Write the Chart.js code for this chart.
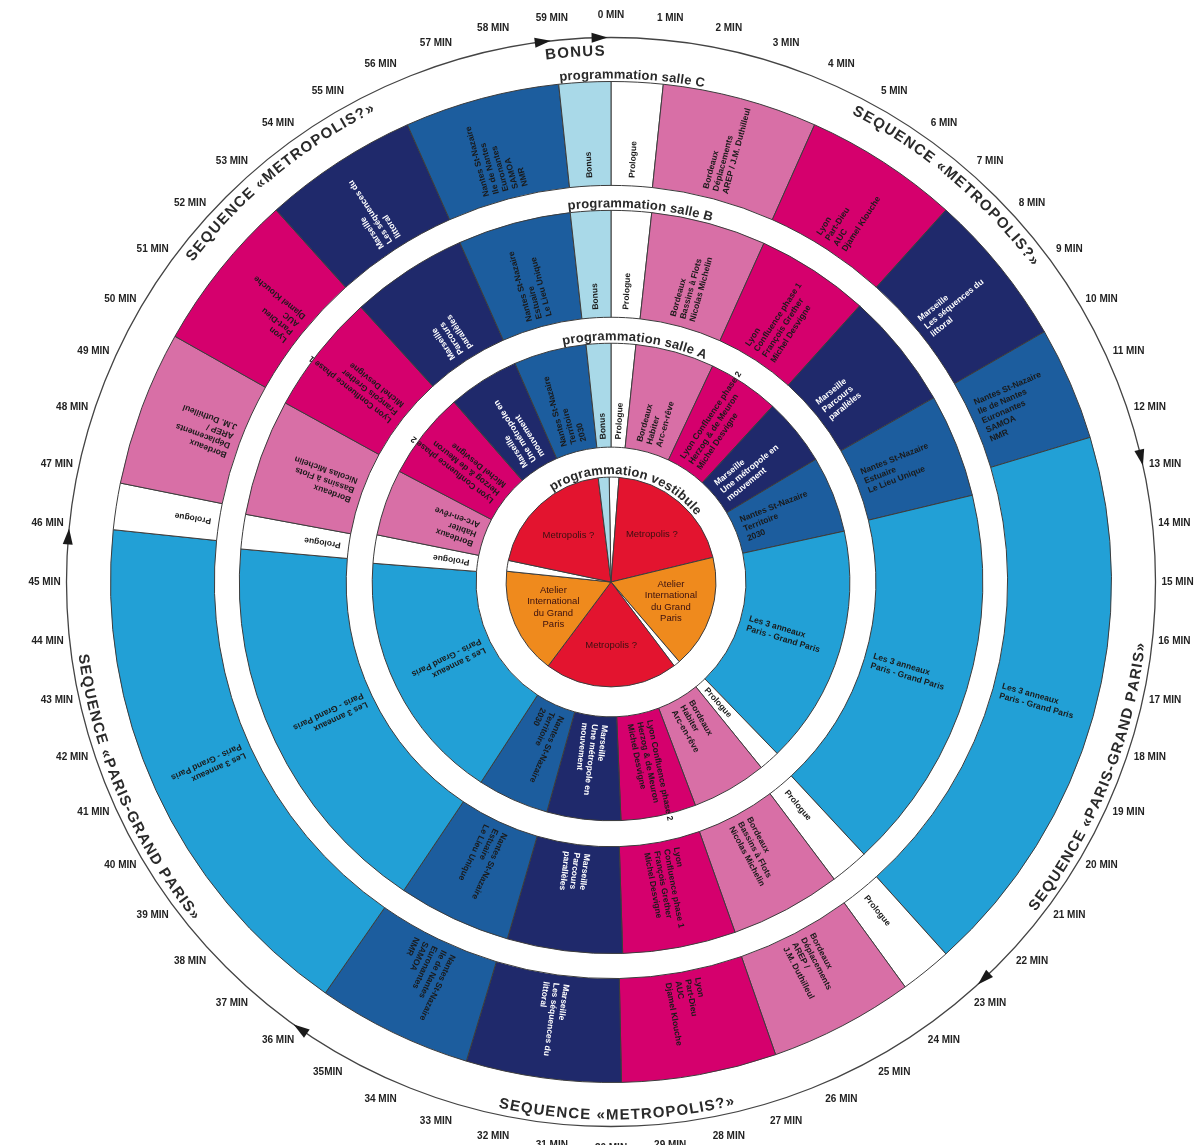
<!DOCTYPE html>
<html lang="fr">
<head>
<meta charset="utf-8">
<title>Programmation</title>
<script src="https://cdn.jsdelivr.net/npm/chart.js@4.4.1/dist/chart.umd.min.js"></script>
<style>
  html, body { margin: 0; padding: 0; background: #fff; }
  #wrap { width: 1201px; height: 1145px; }
</style>
</head>
<body>
<div id="wrap"><canvas id="wheel" width="1201" height="1145"></canvas></div>
<script>
// durées (en minutes) de chaque séquence, à partir de 0 MIN dans le sens horaire
const ringKeys = ['Prologue', 'Bordeaux', 'Lyon', 'Marseille', 'Nantes', 'Paris',
                  'Prologue', 'Bordeaux', 'Lyon', 'Marseille', 'Nantes', 'Paris',
                  'Prologue', 'Bordeaux', 'Lyon', 'Marseille', 'Nantes', 'Bonus'];
const salleC = [1, 3, 3, 3, 2.2, 10.8, 1, 2.8, 3, 3, 3, 10.2, 0.9, 3, 3.1, 3, 3, 1];
const salleB = [1.05, 3, 2.95, 3.05, 2.7, 10.1, 1, 2.9, 2.95, 3, 2.95, 10.2, 0.9, 3.05, 3.15, 3.05, 2.95, 1.05];
const salleA = [1, 3.2, 2.9, 2.75, 3.1, 9.7, 0.85, 3.05, 3.05, 3, 2.9, 10.25, 1.15, 2.7, 3.55, 2.9, 2.95, 1];

const vestibuleKeys = ['Prologue', 'Metropolis', 'Atelier', 'Prologue', 'Metropolis', 'Atelier', 'Prologue', 'Metropolis', 'Bonus'];
const vestibule = [0.9, 12, 10.5, 0.6, 12.3, 9.85, 1, 11.85, 1];

const salleCText = ['Prologue', 'Bordeaux|Déplacements|AREP / J.M. Duthilleul', 'Lyon|Part-Dieu|AUC|Djamel Klouche',
  'Marseille|Les séquences du|littoral', 'Nantes St-Nazaire|Ile de Nantes|Euronantes|SAMOA|NMR', 'Les 3 anneaux|Paris - Grand Paris',
  'Prologue', 'Bordeaux|Déplacements|AREP /|J.M. Duthilleul', 'Lyon|Part-Dieu|AUC|Djamel Klouche',
  'Marseille|Les séquences du|littoral', 'Nantes St-Nazaire|Ile de Nantes|Euronantes|SAMOA|NMR', 'Les 3 anneaux|Paris - Grand Paris',
  'Prologue', 'Bordeaux|Déplacements|AREP /|J.M. Duthilleul', 'Lyon|Part-Dieu|AUC|Djamel Klouche',
  'Marseille|Les séquences du|littoral', 'Nantes St-Nazaire|Ile de Nantes|Euronantes|SAMOA|NMR', 'Bonus'];
const salleBText = ['Prologue', 'Bordeaux|Bassins à Flots|Nicolas Michelin', 'Lyon|Confluence phase 1|François Grether|Michel Desvigne',
  'Marseille|Parcours|parallèles', 'Nantes St-Nazaire|Estuaire|Le Lieu Unique', 'Les 3 anneaux|Paris - Grand Paris',
  'Prologue', 'Bordeaux|Bassins à Flots|Nicolas Michelin', 'Lyon|Confluence phase 1|François Grether|Michel Desvigne',
  'Marseille|Parcours|parallèles', 'Nantes St-Nazaire|Estuaire|Le Lieu Unique', 'Les 3 anneaux|Paris - Grand Paris',
  'Prologue', 'Bordeaux|Bassins à Flots|Nicolas Michelin', 'Lyon Confluence phase 1|François Grether|Michel Desvigne',
  'Marseille|Parcours|parallèles', 'Nantes St-Nazaire|Estuaire|Le Lieu Unique', 'Bonus'];
const salleAText = ['Prologue', 'Bordeaux|Habiter|Arc-en-rêve', 'Lyon Confluence phase 2|Herzog & de Meuron|Michel Desvigne',
  'Marseille|Une métropole en|mouvement', 'Nantes St-Nazaire|Territoire|2030', 'Les 3 anneaux|Paris - Grand Paris',
  'Prologue', 'Bordeaux|Habiter|Arc-en-rêve', 'Lyon Confluence phase 2|Herzog & de Meuron|Michel Desvigne',
  'Marseille|Une métropole en|mouvement', 'Nantes St-Nazaire|Territoire|2030', 'Les 3 anneaux|Paris - Grand Paris',
  'Prologue', 'Bordeaux|Habiter|Arc-en-rêve', 'Lyon Confluence phase 2|Herzog & de Meuron|Michel Desvigne',
  'Marseille|Une métropole en|mouvement', 'Nantes St-Nazaire|Territoire|2030', 'Bonus'];
const vestibuleText = ['', 'Metropolis ?', 'Atelier|International|du Grand|Paris', '', 'Metropolis ?', 'Atelier|International|du Grand|Paris', '', 'Metropolis ?', ''];

const ringTitles = ['programmation salle C', 'programmation salle B', 'programmation salle A', 'programmation vestibule'];
const minuteLabels = Array.from({length: 60}, (_, m) => m + ' MIN');
minuteLabels[35] = '35MIN';
const arrowAt = [58.8, 59.8, 12.8, 22.8, 35.8, 45.8];
const sequences = ['BONUS', 'SEQUENCE «METROPOLIS?»', 'SEQUENCE «PARIS-GRAND PARIS»', 'SEQUENCE «METROPOLIS?»',
                   'SEQUENCE «PARIS-GRAND PARIS»', 'SEQUENCE «METROPOLIS?»'];
const sequenceAt = [59.35, 6.7, 18.7, 29.9, 41.1, 53.4];

const colours = {
  Prologue: '#ffffff', Bonus: '#a9d9e8', Bordeaux: '#d86fa6', Lyon: '#d5006d', Marseille: '#1f296b',
  Nantes: '#1c5d9e', Paris: '#22a0d6', Metropolis: '#e3142f', Atelier: '#ef8a1d'
};
const FONT = '"Liberation Sans", Arial, sans-serif';

function gap(w) {
  return { data: [1], weight: w, backgroundColor: 'rgba(0,0,0,0)', borderWidth: 0 };
}
function ring(values, keys, w, rot) {
  return { data: values, weight: w, rotation: rot, backgroundColor: keys.map(k => colours[k]),
           borderColor: '#3c3c3c', borderWidth: 1 };
}

// texte courbe le long d'un cercle ; outward = lecture horaire, haut des lettres vers l'extérieur
function arcText(ctx, text, cx, cy, r, minute, outward, spacing) {
  const chars = [...text];
  const widths = chars.map(ch => ctx.measureText(ch).width + spacing);
  const total = widths.reduce((a, b) => a + b, 0) - spacing;
  const mid = minute / 60 * Math.PI * 2;
  let a = outward ? mid - total / 2 / r : mid + total / 2 / r;
  ctx.textAlign = 'center';
  ctx.textBaseline = 'alphabetic';
  chars.forEach((ch, i) => {
    const half = (widths[i] - spacing) / 2 / r;
    const c = outward ? a + half : a - half;
    ctx.save();
    ctx.translate(cx + r * Math.sin(c), cy - r * Math.cos(c));
    ctx.rotate(outward ? c : c - Math.PI);
    ctx.fillText(ch, 0, 0);
    ctx.restore();
    a = outward ? a + widths[i] / r : a - widths[i] / r;
  });
}

const wheelPlugin = {
  id: 'wheelText',
  afterDatasetsDraw(chart) {
    const ctx = chart.ctx;
    const first = chart.getDatasetMeta(0).data[0];
    const cx = first.x, cy = first.y, R = first.outerRadius;

    // étiquettes des segments, orientées selon le rayon
    const rings = [[0, salleCText, ringKeys], [2, salleBText, ringKeys], [4, salleAText, ringKeys]];
    ctx.font = 'bold 8.5px ' + FONT;
    rings.forEach(([di, texts, keys]) => {
      chart.getDatasetMeta(di).data.forEach((arc, i) => {
        const p = arc.getProps(['startAngle', 'endAngle', 'innerRadius', 'outerRadius'], true);
        const mid = (p.startAngle + p.endAngle) / 2;
        const lines = texts[i].split('|');
        ctx.save();
        ctx.translate(cx, cy);
        ctx.rotate(mid);
        ctx.fillStyle = keys[i] === 'Marseille' ? '#ffffff' : '#1a1a1a';
        ctx.textAlign = 'left';
        ctx.textBaseline = 'middle';
        lines.forEach((ln, j) => ctx.fillText(ln, p.innerRadius + 8, (j - (lines.length - 1) / 2) * 10));
        ctx.restore();
      });
    });

    // vestibule : texte horizontal
    ctx.font = '9.5px ' + FONT;
    ctx.fillStyle = '#3a1010';
    ctx.textAlign = 'center';
    ctx.textBaseline = 'middle';
    chart.getDatasetMeta(6).data.forEach((arc, i) => {
      if (!vestibuleText[i]) return;
      const p = arc.getProps(['startAngle', 'endAngle', 'outerRadius'], true);
      const mid = (p.startAngle + p.endAngle) / 2;
      const lines = vestibuleText[i].split('|');
      const x = cx + Math.cos(mid) * p.outerRadius * 0.6;
      const y = cy + Math.sin(mid) * p.outerRadius * 0.6;
      lines.forEach((ln, j) => ctx.fillText(ln, x, y + (j - (lines.length - 1) / 2) * 11.5));
    });

    // titres des anneaux
    ctx.font = 'bold 13px ' + FONT;
    ctx.fillStyle = '#2a2a2a';
    const titleAt = [0.4, 0.75, 0.95, 1.6];
    [0, 2, 4, 6].forEach((di, k) => {
      const r = chart.getDatasetMeta(di).data[0].outerRadius + 3;
      arcText(ctx, ringTitles[k], cx, cy, r, titleAt[k], true, 0.2);
    });

    // cercle des minutes
    const arcR = R + 44;
    ctx.strokeStyle = '#444';
    ctx.lineWidth = 1.3;
    ctx.beginPath();
    ctx.arc(cx, cy, arcR, 0, Math.PI * 2);
    ctx.stroke();

    ctx.fillStyle = '#1a1a1a';
    arrowAt.forEach(m => {
      const t = m / 60 * Math.PI * 2;
      const px = cx + arcR * Math.sin(t), py = cy - arcR * Math.cos(t);
      const tx = Math.cos(t), ty = Math.sin(t);
      const nx = -ty, ny = tx;
      ctx.beginPath();
      ctx.moveTo(px + tx * 8, py + ty * 8);
      ctx.lineTo(px - tx * 8 + nx * 5, py - ty * 8 + ny * 5);
      ctx.lineTo(px - tx * 8 - nx * 5, py - ty * 8 - ny * 5);
      ctx.closePath();
      ctx.fill();
    });

    ctx.font = 'bold 10px ' + FONT;
    ctx.fillStyle = '#222';
    ctx.textAlign = 'center';
    ctx.textBaseline = 'middle';
    minuteLabels.forEach((lab, m) => {
      const t = m / 60 * Math.PI * 2;
      const lr = R + 66;
      ctx.fillText(lab, cx + lr * Math.sin(t), cy - lr * Math.cos(t));
    });

    // séquences
    ctx.font = 'bold 15px ' + FONT;
    ctx.fillStyle = '#2a2a2a';
    sequences.forEach((s, k) => {
      const m = sequenceAt[k];
      const deg = m * 6;
      const outward = deg < 70 || deg > 290;
      arcText(ctx, s, cx, cy, outward ? R + 26 : R + 37, m, outward, 1.2);
    });
  }
};

new Chart(document.getElementById('wheel'), {
  type: 'doughnut',
  data: {
    labels: ringKeys,
    datasets: [
      ring(salleC, ringKeys, 104, 0),
      gap(25),
      ring(salleB, ringKeys, 107, 0),
      gap(26),
      ring(salleA, ringKeys, 104, 0),
      gap(30),
      ring(vestibule, vestibuleKeys, 105, -1)
    ]
  },
  options: {
    responsive: false,
    animation: false,
    events: [],
    cutout: 0,
    layout: { padding: { left: 110, right: 89, top: 81, bottom: 62 } },
    plugins: { legend: { display: false }, tooltip: { enabled: false } }
  },
  plugins: [wheelPlugin]
});
</script>
</body>
</html>
